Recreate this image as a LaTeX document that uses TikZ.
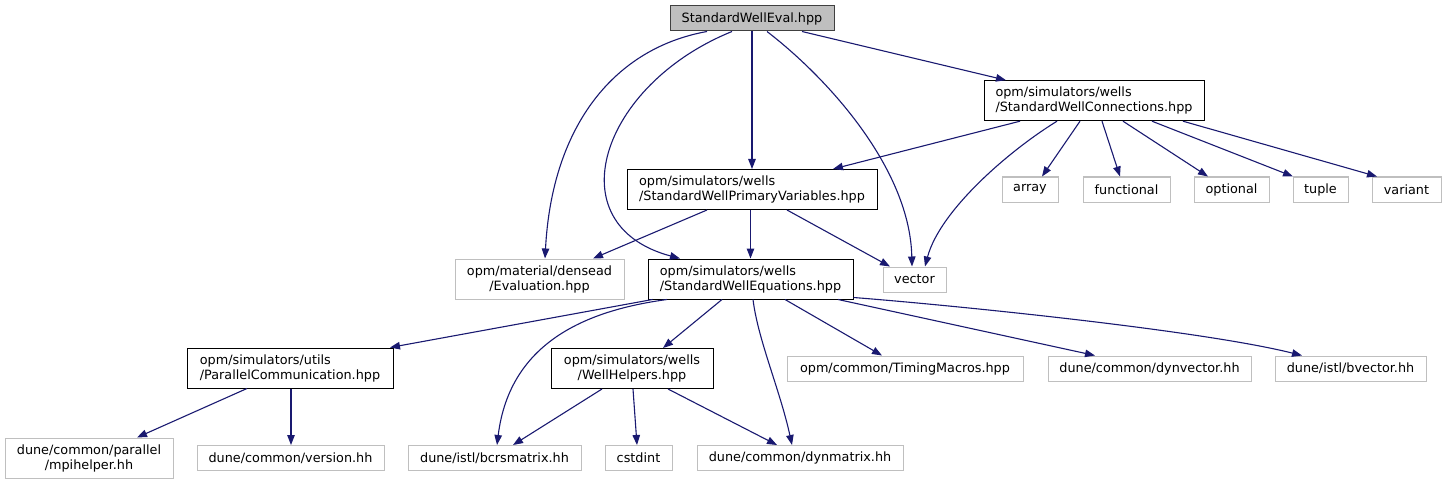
\documentclass[tikz,border=0pt]{standalone}
\usepackage{fontspec}
\setmainfont{DejaVu Sans}
\usetikzlibrary{arrows.meta,calc}
\definecolor{edgeblue}{HTML}{191970}
\definecolor{extgray}{HTML}{BFBFBF}
\definecolor{rootfill}{HTML}{BFBFBF}
\definecolor{rootdraw}{HTML}{404040}
\begin{document}
\begin{tikzpicture}[x=1pt,y=-1pt,
  base/.style={rectangle, inner xsep=2pt, inner ysep=0pt, line width=1pt,
    font=\fontsize{12.8}{15}\selectfont},
  doc/.style={base, draw=black},
  ext/.style={base, draw=extgray},
  rootbox/.style={base, draw=rootdraw, fill=rootfill},
  one/.style={minimum height=25pt},
  two/.style={minimum height=40pt},
  edge/.style={draw=edgeblue, line width=1.1pt, -{Triangle[length=10pt,width=7.5pt]}},
]
\useasboundingbox (0,0) rectangle (1446,484);

% nodes
\node[rootbox, one, minimum width=164pt] (root) at (752,18.5) {StandardWellEval.hpp};
\node[doc, two, minimum width=220pt, align=left] (conn) at (1094,100.7) {opm/simulators/wells\\/StandardWellConnections.hpp};
\node[doc, two, minimum width=250pt, align=left] (prim) at (752,189.5) {opm/simulators/wells\\/StandardWellPrimaryVariables.hpp};
\node[ext, two, minimum width=169pt, align=center] (eval) at (539.5,279) {opm/material/densead\\/Evaluation.hpp};
\node[doc, two, minimum width=205pt, align=left] (eqn) at (750.5,279) {opm/simulators/wells\\/StandardWellEquations.hpp};
\node[ext, one, minimum width=63pt] (vector) at (914.5,279.5) {vector};
\node[ext, one, minimum width=56pt] (array) at (1030,189.5) {array};
\node[ext, one, minimum width=87pt] (functional) at (1126.5,189.5) {functional};
\node[ext, one, minimum width=75pt] (optional) at (1231.5,189.5) {optional};
\node[ext, one, minimum width=55pt] (tuple) at (1320.5,189.5) {tuple};
\node[ext, one, minimum width=69pt] (variant) at (1406.5,189.5) {variant};
\node[doc, two, minimum width=206pt, align=left] (parcomm) at (290,368) {opm/simulators/utils\\/ParallelCommunication.hpp};
\node[doc, two, minimum width=162pt, align=center] (wellhelp) at (632,368.5) {opm/simulators/wells\\/WellHelpers.hpp};
\node[ext, one, minimum width=236pt] (timing) at (905,368.5) {opm/common/TimingMacros.hpp};
\node[ext, one, minimum width=203pt] (dynvec) at (1149.5,368.5) {dune/common/dynvector.hh};
\node[ext, one, minimum width=151pt] (bvec) at (1350.5,368.5) {dune/istl/bvector.hh};
\node[ext, two, minimum width=168pt, align=center] (mpi) at (89,458) {dune/common/parallel\\/mpihelper.hh};
\node[ext, one, minimum width=187pt] (version) at (290.5,458) {dune/common/version.hh};
\node[ext, one, minimum width=173pt] (bcrs) at (494.5,458) {dune/istl/bcrsmatrix.hh};
\node[ext, one, minimum width=67pt] (cstdint) at (638.5,458) {cstdint};
\node[ext, one, minimum width=206pt] (dynmat) at (800,458) {dune/common/dynmatrix.hh};

% edges from root
\draw[edge] ([xshift=-45pt]root.south) .. controls (615,48) and (552,125) .. ([xshift=5.5pt]eval.north);
\draw[edge] ([xshift=-20pt]root.south) .. controls (600,85) and (555,225) .. ([xshift=-70.5pt]eqn.north);
\draw[edge] (root.south) -- (prim.north);
\draw[edge] ([xshift=15pt]root.south) .. controls (830,80) and (910,170) .. ([xshift=-2.5pt]vector.north);
\draw[edge] ([xshift=50pt]root.south) -- ([xshift=-88pt]conn.north);

% edges from conn
\draw[edge] ([xshift=-74pt]conn.south) -- ([xshift=81pt]prim.north);
\draw[edge] ([xshift=-37pt]conn.south) .. controls (1010,150) and (940,210) .. ([xshift=10.5pt]vector.north);
\draw[edge] ([xshift=-14pt]conn.south) -- ([xshift=12pt]array.north);
\draw[edge] ([xshift=8pt]conn.south) -- ([xshift=-6.5pt]functional.north);
\draw[edge] ([xshift=29pt]conn.south) -- ([xshift=-23.5pt]optional.north);
\draw[edge] ([xshift=58pt]conn.south) -- ([xshift=-27.5pt]tuple.north);
\draw[edge] ([xshift=89pt]conn.south) -- ([xshift=-29.5pt]variant.north);

% edges from prim
\draw[edge] ([xshift=-45pt]prim.south) -- ([xshift=53.5pt]eval.north);
\draw[edge] ([xshift=-1.5pt]prim.south) -- (eqn.north);
\draw[edge] ([xshift=35pt]prim.south) -- ([xshift=-24.5pt]vector.north);

% edges from eqn
\draw[edge] ([xshift=-98pt]eqn.south) -- ([xshift=100pt]parcomm.north);
\draw[edge] ([xshift=-83.5pt]eqn.south) .. controls (590,310) and (510,340) .. ([xshift=2.5pt]bcrs.north);
\draw[edge] ([xshift=-28.5pt]eqn.south) -- ([xshift=31pt]wellhelp.north);
\draw[edge] ([xshift=2.5pt]eqn.south) .. controls (758,340) and (780,390) .. ([xshift=-8pt]dynmat.north);
\draw[edge] ([xshift=34.5pt]eqn.south) -- ([xshift=-23pt]timing.north);
\draw[edge] ([xshift=87.5pt]eqn.south) -- ([xshift=-54.5pt]dynvec.north);
\draw[edge] ([yshift=2pt]eqn.south east) .. controls (950,305) and (1200,330) .. ([xshift=-48.5pt]bvec.north);

% edges from parcomm
\draw[edge] ([xshift=-43pt]parcomm.south) -- ([xshift=48pt]mpi.north);
\draw[edge] ([xshift=1pt]parcomm.south) -- ([xshift=0.5pt]version.north);

% edges from wellhelpers
\draw[edge] ([xshift=-30pt]wellhelp.south) -- ([xshift=18.5pt]bcrs.north);
\draw[edge] ([xshift=1pt]wellhelp.south) -- ([xshift=-1.5pt]cstdint.north);
\draw[edge] ([xshift=36pt]wellhelp.south) -- ([xshift=-23pt]dynmat.north);
\end{tikzpicture}
\end{document}
